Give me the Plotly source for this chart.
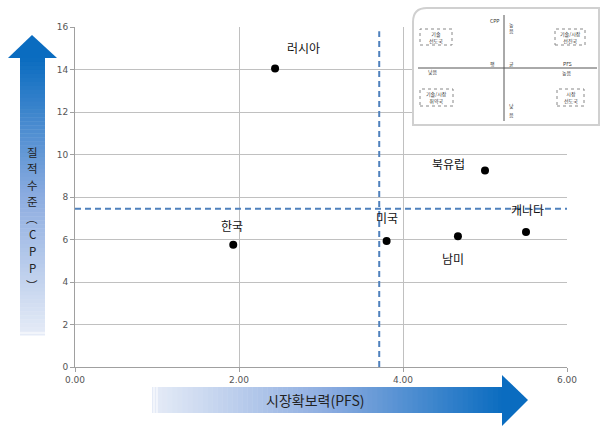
import plotly.graph_objects as go

# Market competitiveness (PFS) vs. quality level (CPP) by region
regions = ["러시아", "한국", "미국", "남미", "캐나다", "북유럽"]
pfs = [2.44, 1.93, 3.80, 4.67, 5.50, 5.00]
cpp = [14.05, 5.75, 5.93, 6.15, 6.35, 9.25]
# label offsets from each point, in pixels
label_dx = [28, -1, 0, -5, 1, -37]
label_dy = [21, 19, 23, -22, 23, 7]

# Average lines
pfs_avg = 3.71
cpp_avg = 7.45

x_ticks = [0, 2, 4, 6]
x_tick_text = ["0.00", "2.00", "4.00", "6.00"]
y_ticks = [0, 2, 4, 6, 8, 10, 12, 14, 16]

W, H = 602, 426
ML, MR, MT, MB = 75, 35, 27, 59
PW, PH = W - ML - MR, H - MT - MB

FONT = "Noto Sans CJK KR, Noto Sans, sans-serif"


def px(x):
    return (x - ML) / PW


def py(y):
    return (H - MB - y) / PH


def mix(c1, c2, t):
    return "rgb(%d,%d,%d)" % tuple(round(a + (b - a) * t) for a, b in zip(c1, c2))


DARK = (10, 108, 192)
MID = (140, 172, 224)
LIGHT = (230, 236, 247)


def grad(t):
    # t = 0 light end, t = 1 dark end
    if t < 0.5:
        return mix(LIGHT, MID, t / 0.5)
    return mix(MID, DARK, (t - 0.5) / 0.5)


def note(x, y, txt, size, color="#333", **kw):
    return dict(xref="paper", yref="paper", x=px(x), y=py(y), text=txt, showarrow=False,
                xanchor="center", yanchor="middle",
                font=dict(family=FONT, size=size, color=color), **kw)


fig = go.Figure()

fig.add_trace(go.Scatter(
    x=pfs, y=cpp, mode="markers",
    marker=dict(color="black", size=8),
    cliponaxis=False, showlegend=False, hoverinfo="skip",
))

annotations = []
for name, x, y, dx, dy in zip(regions, pfs, cpp, label_dx, label_dy):
    annotations.append(dict(xref="x", yref="y", x=x, y=y, text=name, showarrow=False,
                            xanchor="center", yanchor="middle", xshift=dx, yshift=dy,
                            font=dict(family=FONT, size=12, color="#111")))

shapes = []
# average dashed lines
shapes.append(dict(type="line", xref="x", yref="y", x0=pfs_avg, x1=pfs_avg, y0=0, y1=15.8,
                   line=dict(color="#4f81bd", width=2, dash="6px,4px")))
shapes.append(dict(type="line", xref="x", yref="y", x0=0, x1=6, y0=cpp_avg, y1=cpp_avg,
                   line=dict(color="#4f81bd", width=2, dash="6px,4px")))

# vertical gradient arrow (CPP)
n = 70
top, bot = 58, 335
for i in range(n):
    y0 = top + (bot - top) * i / n
    y1 = top + (bot - top) * (i + 1) / n
    t = 1 - (i + 0.5) / n
    shapes.append(dict(type="rect", xref="paper", yref="paper",
                       x0=px(20), x1=px(45), y0=py(y1 + 0.5), y1=py(y0),
                       fillcolor=grad(t), line=dict(width=0), layer="below"))
shapes.append(dict(type="path", xref="paper", yref="paper",
                   path="M %f %f L %f %f L %f %f Z" % (px(8), py(58), px(57), py(58), px(32), py(35)),
                   fillcolor=grad(1.0), line=dict(width=0)))
for yy in (333, 337):
    shapes.append(dict(type="line", xref="paper", yref="paper", x0=px(20), x1=px(45),
                       y0=py(yy), y1=py(yy), line=dict(color="white", width=1)))

# horizontal gradient arrow (PFS)
left, right = 152, 503
for i in range(n):
    x0 = left + (right - left) * i / n
    x1 = left + (right - left) * (i + 1) / n
    t = (i + 0.5) / n
    shapes.append(dict(type="rect", xref="paper", yref="paper",
                       x0=px(x0), x1=px(x1 + 0.5), y0=py(413), y1=py(387),
                       fillcolor=grad(t), line=dict(width=0), layer="below"))
shapes.append(dict(type="path", xref="paper", yref="paper",
                   path="M %f %f L %f %f L %f %f Z" % (px(502), py(375), px(502), py(426), px(528), py(400)),
                   fillcolor=grad(1.0), line=dict(width=0)))
for xx in (154, 157):
    shapes.append(dict(type="line", xref="paper", yref="paper", x0=px(xx), x1=px(xx),
                       y0=py(387), y1=py(413), line=dict(color="white", width=1)))

# quadrant legend box
bx0, bx1, by0, by1, r = 413, 599, 8, 125, 14
path = ("M %f %f L %f %f L %f %f L %f %f Q %f %f %f %f Z" % (
    px(bx0), py(by1), px(bx1), py(by1), px(bx1), py(by0), px(bx0 + r), py(by0),
    px(bx0), py(by0), px(bx0), py(by0 + r)))
shapes.append(dict(type="path", xref="paper", yref="paper", path=path,
                   fillcolor="white", line=dict(color="#d0d0d0", width=2), layer="above"))
shapes.append(dict(type="line", xref="paper", yref="paper", x0=px(504), x1=px(504),
                   y0=py(15), y1=py(121), line=dict(color="#555", width=1), layer="above"))
shapes.append(dict(type="line", xref="paper", yref="paper", x0=px(418), x1=px(597),
                   y0=py(68), y1=py(68), line=dict(color="#555", width=1), layer="above"))

boxes = [(420, 452, 29, 45, "기술<br>선도국"), (555, 585, 29, 45, "기술/시장<br>선진국"),
         (420, 453, 89, 106, "기술/시장<br>취약국"), (557, 584, 89, 106, "시장<br>선도국")]
for x0, x1, y0, y1, txt in boxes:
    shapes.append(dict(type="rect", xref="paper", yref="paper", x0=px(x0), x1=px(x1),
                       y0=py(y1), y1=py(y0), line=dict(color="#888", width=1, dash="dot"),
                       fillcolor="white", layer="above"))
    annotations.append(note((x0 + x1) / 2, (y0 + y1) / 2, txt, 5))

small = [(495, 20, "CPP"), (511, 24, "높"), (511, 31, "음"), (433, 72, "낮음"),
         (492, 64, "평"), (511, 64, "균"), (567, 64, "PFS"), (567, 72, "높음"),
         (511, 106, "낮"), (511, 114, "음")]
for x, y, txt in small:
    annotations.append(note(x, y, txt, 5))

# axis titles on the arrows
v_chars = ["질", "적", "수", "준", "︵", "C", "P", "P", "︶"]
v_ys = [152, 168, 185, 201, 218, 234, 251, 268, 285]
for ch, yy in zip(v_chars, v_ys):
    annotations.append(note(32, yy, ch, 11.5, "#222", borderpad=0))
annotations.append(note(315, 400, "시장확보력(PFS)", 14, "#222"))

fig.update_layout(
    width=W, height=H, margin=dict(l=ML, r=MR, t=MT, b=MB),
    paper_bgcolor="white", plot_bgcolor="white",
    shapes=shapes, annotations=annotations, showlegend=False,
    font=dict(family=FONT),
)
fig.update_xaxes(range=[0, 6], tickvals=x_ticks, ticktext=x_tick_text,
                 showgrid=True, gridcolor="#c0c0c0", gridwidth=1,
                 showline=True, linecolor="#a0a0a0", ticks="outside", ticklen=4,
                 tickcolor="#a0a0a0", tickfont=dict(size=9, color="#555", family="DejaVu Sans"),
                 zeroline=False, mirror=False)
fig.update_yaxes(range=[0, 16], tickvals=y_ticks,
                 showgrid=True, gridcolor="#c0c0c0", gridwidth=1,
                 showline=True, linecolor="#a0a0a0", ticks="outside", ticklen=4,
                 tickcolor="#a0a0a0", tickfont=dict(size=9, color="#555", family="DejaVu Sans"),
                 zeroline=False)

fig.write_html("out.html")
